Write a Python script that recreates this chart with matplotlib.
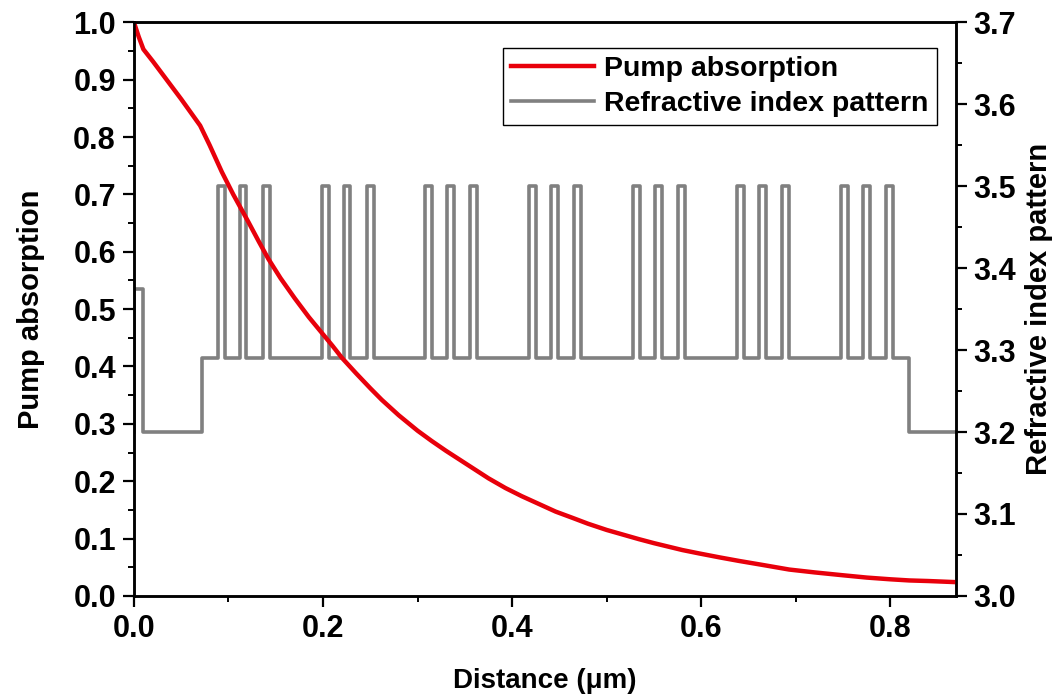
import matplotlib.pyplot as plt
from matplotlib.ticker import MultipleLocator

plt.rcParams['font.family'] = ['Liberation Sans', 'DejaVu Sans']
plt.rcParams['font.weight'] = 'bold'
plt.rcParams['axes.labelweight'] = 'bold'

# pump absorption
dist = [0.0, 0.005, 0.01, 0.02, 0.03, 0.04, 0.05, 0.06, 0.07, 0.08, 0.093,
        0.105, 0.121, 0.132, 0.142, 0.155, 0.17, 0.185, 0.199, 0.21, 0.22,
        0.235, 0.25, 0.262, 0.28, 0.30, 0.315, 0.33, 0.345, 0.36, 0.375,
        0.393, 0.41, 0.43, 0.446, 0.464, 0.48, 0.50, 0.517, 0.534, 0.55,
        0.565, 0.58, 0.598, 0.62, 0.64, 0.665, 0.693, 0.72, 0.75, 0.775,
        0.80, 0.82, 0.84, 0.855, 0.87]
pump = [1.0, 0.975, 0.953, 0.932, 0.910, 0.888, 0.866, 0.843, 0.820, 0.786, 0.739,
        0.700, 0.652, 0.618, 0.588, 0.554, 0.519, 0.486, 0.458, 0.436, 0.415,
        0.388, 0.362, 0.342, 0.315, 0.288, 0.270, 0.253, 0.237, 0.221, 0.205,
        0.188, 0.174, 0.159, 0.147, 0.136, 0.126, 0.115, 0.107, 0.099, 0.092,
        0.086, 0.080, 0.074, 0.067, 0.061, 0.054, 0.046, 0.041, 0.036, 0.032,
        0.029, 0.027, 0.026, 0.025, 0.024]

# refractive index layers
n_clad = 3.2
n_start = 3.375
n_base = 3.29
n_high = 3.5
start_end = 0.01
clad_end = 0.0717
base_end = 0.82
x_end = 0.87
pillar_rise = [0.089, 0.112, 0.136, 0.199, 0.222, 0.246, 0.308, 0.331, 0.355,
               0.418, 0.441, 0.465, 0.528, 0.551, 0.575, 0.638, 0.661, 0.685,
               0.748, 0.771, 0.795]
pillar_fall = [0.096, 0.119, 0.144, 0.206, 0.229, 0.254, 0.315, 0.338, 0.363,
               0.425, 0.448, 0.473, 0.535, 0.558, 0.583, 0.645, 0.668, 0.693,
               0.755, 0.778, 0.803]

xs = [0.0, 0.0, start_end, start_end, clad_end, clad_end]
ns = [n_clad, n_start, n_start, n_clad, n_clad, n_base]
for r, f in zip(pillar_rise, pillar_fall):
    xs += [r, r, f, f]
    ns += [n_base, n_high, n_high, n_base]
xs += [base_end, base_end, x_end]
ns += [n_base, n_clad, n_clad]

fig = plt.figure(figsize=(10.63, 6.97), dpi=100)
ax = fig.add_axes([0.126, 0.145, 0.773, 0.823])
ax2 = ax.twinx()

line_red, = ax.plot(dist, pump, color='#e8000b', lw=3.2, label='Pump absorption')
line_gray, = ax2.plot(xs, ns, color='#808080', lw=2.6, label='Refractive index pattern')

# red curve sits on top of the index pattern
ax.set_zorder(ax2.get_zorder() + 1)
ax.patch.set_visible(False)

ax.set_xlim(0, 0.869)
ax.set_ylim(0, 1.0)
ax2.set_ylim(3.0, 3.7)

ax.xaxis.set_major_locator(MultipleLocator(0.2))
ax.xaxis.set_minor_locator(MultipleLocator(0.1))
ax.yaxis.set_major_locator(MultipleLocator(0.1))
ax.yaxis.set_minor_locator(MultipleLocator(0.05))
ax2.yaxis.set_major_locator(MultipleLocator(0.1))
ax2.yaxis.set_minor_locator(MultipleLocator(0.05))
ax.xaxis.set_major_formatter(plt.FormatStrFormatter('%.1f'))
ax.yaxis.set_major_formatter(plt.FormatStrFormatter('%.1f'))
ax2.yaxis.set_major_formatter(plt.FormatStrFormatter('%.1f'))

for a in (ax, ax2):
    a.tick_params(which='major', direction='out', length=8, width=1.6, labelsize=22, pad=5)
    a.tick_params(which='minor', direction='out', length=4.5, width=1.4)
    for s in a.spines.values():
        s.set_linewidth(1.8)

ax.set_xlabel('Distance (\u03bcm)', fontsize=20, labelpad=17)
ax.set_ylabel('Pump absorption', fontsize=21, labelpad=20)
ax2.set_ylabel('Refractive index pattern', fontsize=21, labelpad=6)

leg = ax.legend(handles=[line_red, line_gray], loc='upper right',
                bbox_to_anchor=(0.977, 0.956), borderaxespad=0, fontsize=20.5,
                fancybox=False, edgecolor='black', framealpha=1,
                handlelength=2.9, handletextpad=0.35, labelspacing=0.3,
                borderpad=0.3)
leg.get_frame().set_linewidth(1.0)

fig.savefig('out.png', dpi=100)
